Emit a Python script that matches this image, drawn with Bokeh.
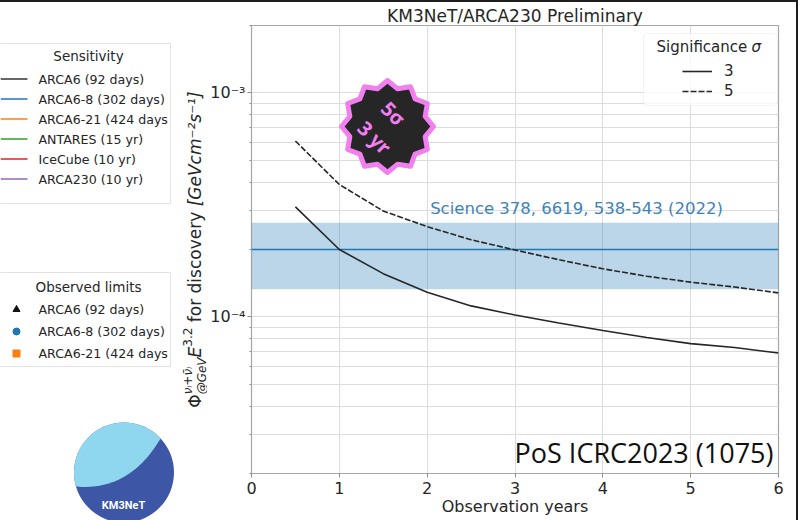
import math

from bokeh.core.properties import value
from bokeh.embed import file_html
from bokeh.layouts import column, row
from bokeh.models import (BoxAnnotation, CustomJSTickFormatter, Div, FixedTicker,
                          Label, Legend, LegendItem, Range1d)
from bokeh.plotting import figure
from bokeh.resources import INLINE

# ---------------------------------------------------------------- data
YEARS = [0.5, 1.0, 1.5, 2.0, 2.5, 3.0, 3.5, 4.0, 4.5, 5.0, 5.5, 6.0]
FLUX_3SIGMA = [3.10e-4, 2.00e-4, 1.56e-4, 1.29e-4, 1.12e-4, 1.02e-4,
               9.40e-5, 8.70e-5, 8.10e-5, 7.60e-5, 7.30e-5, 6.90e-5]
FLUX_5SIGMA = [6.10e-4, 3.90e-4, 2.97e-4, 2.53e-4, 2.21e-4, 1.99e-4,
               1.80e-4, 1.64e-4, 1.52e-4, 1.43e-4, 1.36e-4, 1.28e-4]
SIGMA_LEVELS = ["3", "5"]

# IceCube NGC 1068 flux with its uncertainty band
NGC_FLUX = 2.0e-4
NGC_FLUX_LO = 1.33e-4
NGC_FLUX_HI = 2.63e-4
NGC_REF = "Science 378, 6619, 538-543 (2022)"

X_TICKS = [0, 1, 2, 3, 4, 5, 6]
Y_MAJOR = [1e-4, 1e-3]
Y_LIMITS = [2e-5, 2e-3]

SENS_LABELS = ["ARCA6 (92 days)", "ARCA6-8 (302 days)", "ARCA6-21 (424 days",
               "ANTARES (15 yr)", "IceCube (10 yr)", "ARCA230 (10 yr)"]
SENS_COLORS = ["#333333", "#1f77b4", "#ff7f0e", "#2ca02c", "#d62728", "#9467bd"]
OBS_LABELS = ["ARCA6 (92 days)", "ARCA6-8 (302 days)", "ARCA6-21 (424 days"]
OBS_MARKERS = ["triangle", "circle", "square"]
OBS_COLORS = ["#111111", "#1f77b4", "#ff7f0e"]

TITLE = "KM3NeT/ARCA230 Preliminary"
X_LABEL = "Observation years"
CREDIT = "PoS ICRC2023 (1075)"

# ---------------------------------------------------------------- layout
PAGE_W, PAGE_H = 798, 520
STRIP = 2                      # dark frame line on top and right
LEFT_W = 207                   # side panel: legends, logo and y-axis label
MAIN_W = PAGE_W - LEFT_W - STRIP
FL, FR, FT, FB = 251, 778, 25, 473   # plot frame edges in page pixels
FONT = "DejaVu Sans"
INK = "#262626"


def at(px, py):
    """Page pixel position -> data coordinates of the main plot."""
    x = X_TICKS[0] + (px - FL) / (FR - FL) * (X_TICKS[-1] - X_TICKS[0])
    l0, l1 = math.log10(Y_LIMITS[0]), math.log10(Y_LIMITS[1])
    ly = l0 + (FB - py) / (FB - FT) * (l1 - l0)
    return x, 10 ** ly


p = figure(width=MAIN_W, height=PAGE_H - STRIP,
           x_range=Range1d(X_TICKS[0], X_TICKS[-1]),
           y_range=Range1d(*Y_LIMITS), y_axis_type="log",
           output_backend="svg", toolbar_location=None, frame_align=False,
           min_border_left=FL - LEFT_W, min_border_right=LEFT_W + MAIN_W - FR,
           min_border_top=FT - STRIP, min_border_bottom=PAGE_H - FB)
p.background_fill_color = "white"
p.border_fill_color = "white"
p.outline_line_color = "#a6a6a6"
p.outline_line_width = 1.2

p.title.text = TITLE
p.title.align = "center"
p.title.text_font = FONT
p.title.text_font_size = "17px"
p.title.text_font_style = "normal"
p.title.text_color = INK
p.title.standoff = 0

minor = [k * 10.0 ** e for e in (-5, -4, -3) for k in range(2, 10)
         if Y_LIMITS[0] * 0.999 <= k * 10.0 ** e <= Y_LIMITS[1] * 1.001]
p.xaxis.ticker = X_TICKS
p.yaxis.ticker = FixedTicker(ticks=Y_MAJOR, minor_ticks=minor)
p.yaxis.formatter = CustomJSTickFormatter(code="""
const sup = {"-": "\u207b", "0": "\u2070", "1": "\u00b9", "2": "\u00b2", "3": "\u00b3",
             "4": "\u2074", "5": "\u2075", "6": "\u2076", "7": "\u2077", "8": "\u2078", "9": "\u2079"};
const e = Math.round(Math.log10(tick));
return "10" + String(e).split("").map(c => sup[c]).join("");
""")
for ax in (p.xaxis[0], p.yaxis[0]):
    ax.axis_line_color = None
    ax.major_tick_line_color = "#8c8c8c"
    ax.minor_tick_line_color = "#8c8c8c"
    ax.major_tick_in = 0
    ax.major_tick_out = 4
    ax.minor_tick_in = 0
    ax.major_label_text_font = FONT
    ax.major_label_text_font_size = "16px"
    ax.major_label_text_color = INK
    ax.major_label_standoff = 4
p.yaxis.major_label_standoff = 2
p.xaxis.minor_tick_out = 0
p.yaxis.minor_tick_out = 2
p.xaxis.axis_label = X_LABEL
p.xaxis.axis_label_text_font = FONT
p.xaxis.axis_label_text_font_size = "16px"
p.xaxis.axis_label_text_font_style = "normal"
p.xaxis.axis_label_text_color = INK
p.xaxis.axis_label_standoff = 0

p.xgrid.grid_line_color = "#dcdcdc"
p.ygrid.grid_line_color = "#dcdcdc"
p.ygrid.minor_grid_line_color = "#dcdcdc"

# NGC 1068 band and central value
p.quad(left=[X_TICKS[0]], right=[X_TICKS[-1]], bottom=[NGC_FLUX_LO], top=[NGC_FLUX_HI],
       fill_color="#1f77b4", fill_alpha=0.3, line_color=None)
p.line([X_TICKS[0], X_TICKS[-1]], [NGC_FLUX, NGC_FLUX], line_color="#1f77b4", line_width=1.5)
tx, ty = at(576, 208)
p.add_layout(Label(x=tx, y=ty, text=NGC_REF, text_align="center", text_baseline="middle",
                   text_font=FONT, text_font_size="16.5px", text_color="#3f82b8"))

# discovery potential curves
r3 = p.line(YEARS, FLUX_3SIGMA, line_color=INK, line_width=1.6)
r5 = p.line(YEARS, FLUX_5SIGMA, line_color=INK, line_width=1.6, line_dash="6 2")

# significance legend
bl, bt = at(643, 33)
br, bb = at(777, 105)
p.add_layout(BoxAnnotation(left=bl, right=br, top=bt, bottom=bb, fill_color="white",
                           fill_alpha=0.8, line_color="#d6d6d6", line_width=1,
                           border_radius=4, level="annotation"))
for txt, px_, style in (("Significance", 656, "normal"), ("σ", 751, "italic")):
    lx, ly = at(px_, 46)
    p.add_layout(Label(x=lx, y=ly, text=txt, text_align="left", text_baseline="middle",
                       text_font=FONT, text_font_style=style, text_font_size="15px",
                       text_color=INK))
legend = Legend(items=[LegendItem(label=SIGMA_LEVELS[0], renderers=[r3]),
                       LegendItem(label=SIGMA_LEVELS[1], renderers=[r5])],
                location=(682 - FL, FB - 101), margin=0, padding=0, spacing=0,
                glyph_width=30, glyph_height=20, label_height=20, label_standoff=12,
                label_text_font=FONT, label_text_font_size="15px",
                label_text_color=INK, border_line_alpha=0, background_fill_alpha=0)
p.add_layout(legend)

# "5 sigma in 3 yr" badge
cx, cy, r_out, r_in, n_tips = 387, 126, 46, 39, 12
sx, sy = [], []
for k in range(2 * n_tips):
    a = math.pi / 2 + k * math.pi / n_tips
    rr = r_out if k % 2 == 0 else r_in
    bx, by = at(cx + rr * math.cos(a), cy - rr * math.sin(a))
    sx.append(bx)
    sy.append(by)
p.patch(sx, sy, fill_color="#262626", line_color="#f27ff0", line_width=5, line_join="round")
for txt, (bx, by) in (("5σ", (393, 113)), ("3 yr", (374, 137))):
    qx, qy = at(bx, by)
    p.add_layout(Label(x=qx, y=qy, text=txt, angle=-math.pi / 4, text_align="center",
                       text_baseline="middle", text_font="Noto Sans",
                       text_font_style="bold", text_font_size="20px",
                       text_color="#f27ff0"))

cx_, cy_ = at(773, 452)
p.add_layout(Label(x=cx_, y=cy_, text=CREDIT, text_align="right", text_baseline="middle",
                   text_font="Open Sans", text_font_size="27px", text_color="#111111"))

# ---------------------------------------------------------------- side panel
s = figure(width=LEFT_W, height=PAGE_H - STRIP, x_range=Range1d(0, LEFT_W),
           y_range=Range1d(0, PAGE_H - STRIP), x_axis_type=None, y_axis_type=None,
           output_backend="svg", toolbar_location=None, min_border=0, frame_align=False)
s.outline_line_color = None


def up(py):
    """Page y (downwards) -> side panel y (upwards)."""
    return PAGE_H - py


# Sensitivity legend
s.quad(left=[-5], right=[170], top=[up(43)], bottom=[up(203)], fill_color="white",
       line_color="#e2e2e2", line_width=1)
s.text(x=[88], y=[up(55)], text=["Sensitivity"], text_align="center",
       text_baseline="middle", text_font=value(FONT), text_font_size="13.5px",
       text_color=INK)
rows = [up(78.5 + 20.0 * i) for i in range(len(SENS_LABELS))]
s.segment(x0=[0] * len(rows), x1=[27] * len(rows), y0=rows, y1=rows,
          line_color=SENS_COLORS, line_width=1.5)
s.text(x=[38] * len(rows), y=rows, text=SENS_LABELS, text_baseline="middle",
       text_font=value(FONT), text_font_size="12.6px", text_color=INK)

# Observed limits legend
s.quad(left=[-5], right=[170], top=[up(272)], bottom=[up(366)], fill_color="white",
       line_color="#e2e2e2", line_width=1)
s.text(x=[88], y=[up(286)], text=["Observed limits"], text_align="center",
       text_baseline="middle", text_font=value(FONT), text_font_size="13.5px",
       text_color=INK)
orows = [up(309 + 22.0 * i) for i in range(len(OBS_LABELS))]
s.scatter(x=[16] * len(orows), y=orows, marker=OBS_MARKERS, fill_color=OBS_COLORS,
          line_color=OBS_COLORS, size=7)
s.text(x=[38] * len(orows), y=orows, text=OBS_LABELS, text_baseline="middle",
       text_font=value(FONT), text_font_size="12.6px", text_color=INK)

# KM3NeT logo
lcx, lcy, lr = 123.5, 472, 50
s.circle(x=[lcx], y=[up(lcy)], radius=lr, fill_color="#3d56a6", line_color=None)
a0 = math.atan2(438 - lcy, 160 - lcx)
a1 = math.atan2(486 - lcy, 75 - lcx) - 2 * math.pi
lx_, ly_ = [], []
for i in range(61):
    a = a0 + (a1 - a0) * i / 60
    lx_.append(lcx + lr * math.cos(a))
    ly_.append(up(lcy + lr * math.sin(a)))
p0, p1, p2 = (75, 486), (129, 491), (160, 438)
for i in range(1, 30):
    t = i / 30
    lx_.append((1 - t) ** 2 * p0[0] + 2 * t * (1 - t) * p1[0] + t ** 2 * p2[0])
    ly_.append(up((1 - t) ** 2 * p0[1] + 2 * t * (1 - t) * p1[1] + t ** 2 * p2[1]))
s.patch(lx_, ly_, fill_color="#8fd7ef", line_color=None)
s.text(x=[123], y=[up(505)], text=["KM3NeT"], text_align="center", text_baseline="middle",
       text_font=value("Roboto"), text_font_style="bold", text_font_size="11px",
       text_color="white")

# y-axis label: main text with super- and subscripts, read bottom to top
ADV = {"Φ": .79, "ν": .60, "ₗ": .40, "+": .84, "@": 1.0, "G": .775, "e": .615, "V": .684,
       "E": .632, "3": .636, "2": .636, "1": .636, ".": .318, " ": .318, "f": .352,
       "o": .612, "r": .411, "d": .635, "i": .278, "s": .521, "c": .55, "v": .592,
       "y": .592, "[": .39, "]": .39, "m": .974, "⁻": .534, "²": .401, "¹": .401,
       "\u0304": 0.0}
MAIN_PX, SCRIPT_PX = 17.0, 12.0
GAP = 0.318 * MAIN_PX
# (pieces sharing one slot, extra space after the slot)
YLABEL_GROUPS = [
    ([("Φ", "main", "normal")], 0.0),
    ([("ν\u2097+ν\u0304\u2097", "sup", "italic"), ("@GeV", "sub", "italic")], 0.0),
    ([("E", "main", "italic")], 0.0),
    ([("3.2", "sup", "normal")], GAP),
    ([("for discovery", "main", "normal")], GAP),
    ([("[GeVcm⁻²s⁻¹]", "main", "italic")], 0.0),
]
COLUMN_X = {"main": 194.0, "sup": 187.0, "sub": 201.0}


def advance(txt, size):
    return sum(ADV.get(ch, 0.6) for ch in txt) * size


steps = [max(advance(t, MAIN_PX if k == "main" else SCRIPT_PX) for t, k, _ in g) + gap
         for g, gap in YLABEL_GROUPS]
ypos = (FT + FB) / 2 + sum(steps) / 2          # centred on the plot frame
for (group, _), step in zip(YLABEL_GROUPS, steps):
    for txt, kind, style in group:
        size = MAIN_PX if kind == "main" else SCRIPT_PX
        s.text(x=[COLUMN_X[kind]], y=[up(ypos)], text=[txt], angle=math.pi / 2,
               text_align="left", text_baseline="middle", text_font=value(FONT),
               text_font_style=style, text_font_size=f"{size}px", text_color=INK)
    ypos -= step

top_strip = Div(text="", width=PAGE_W, height=STRIP, margin=0,
                styles={"background-color": "#1e1e1e"})
right_strip = Div(text="", width=STRIP, height=PAGE_H - STRIP, margin=0,
                  styles={"background-color": "#1e1e1e"})

layout = column(top_strip, row(s, p, right_strip, spacing=0), spacing=0)
open("out.html", "w").write(file_html(layout, INLINE))
